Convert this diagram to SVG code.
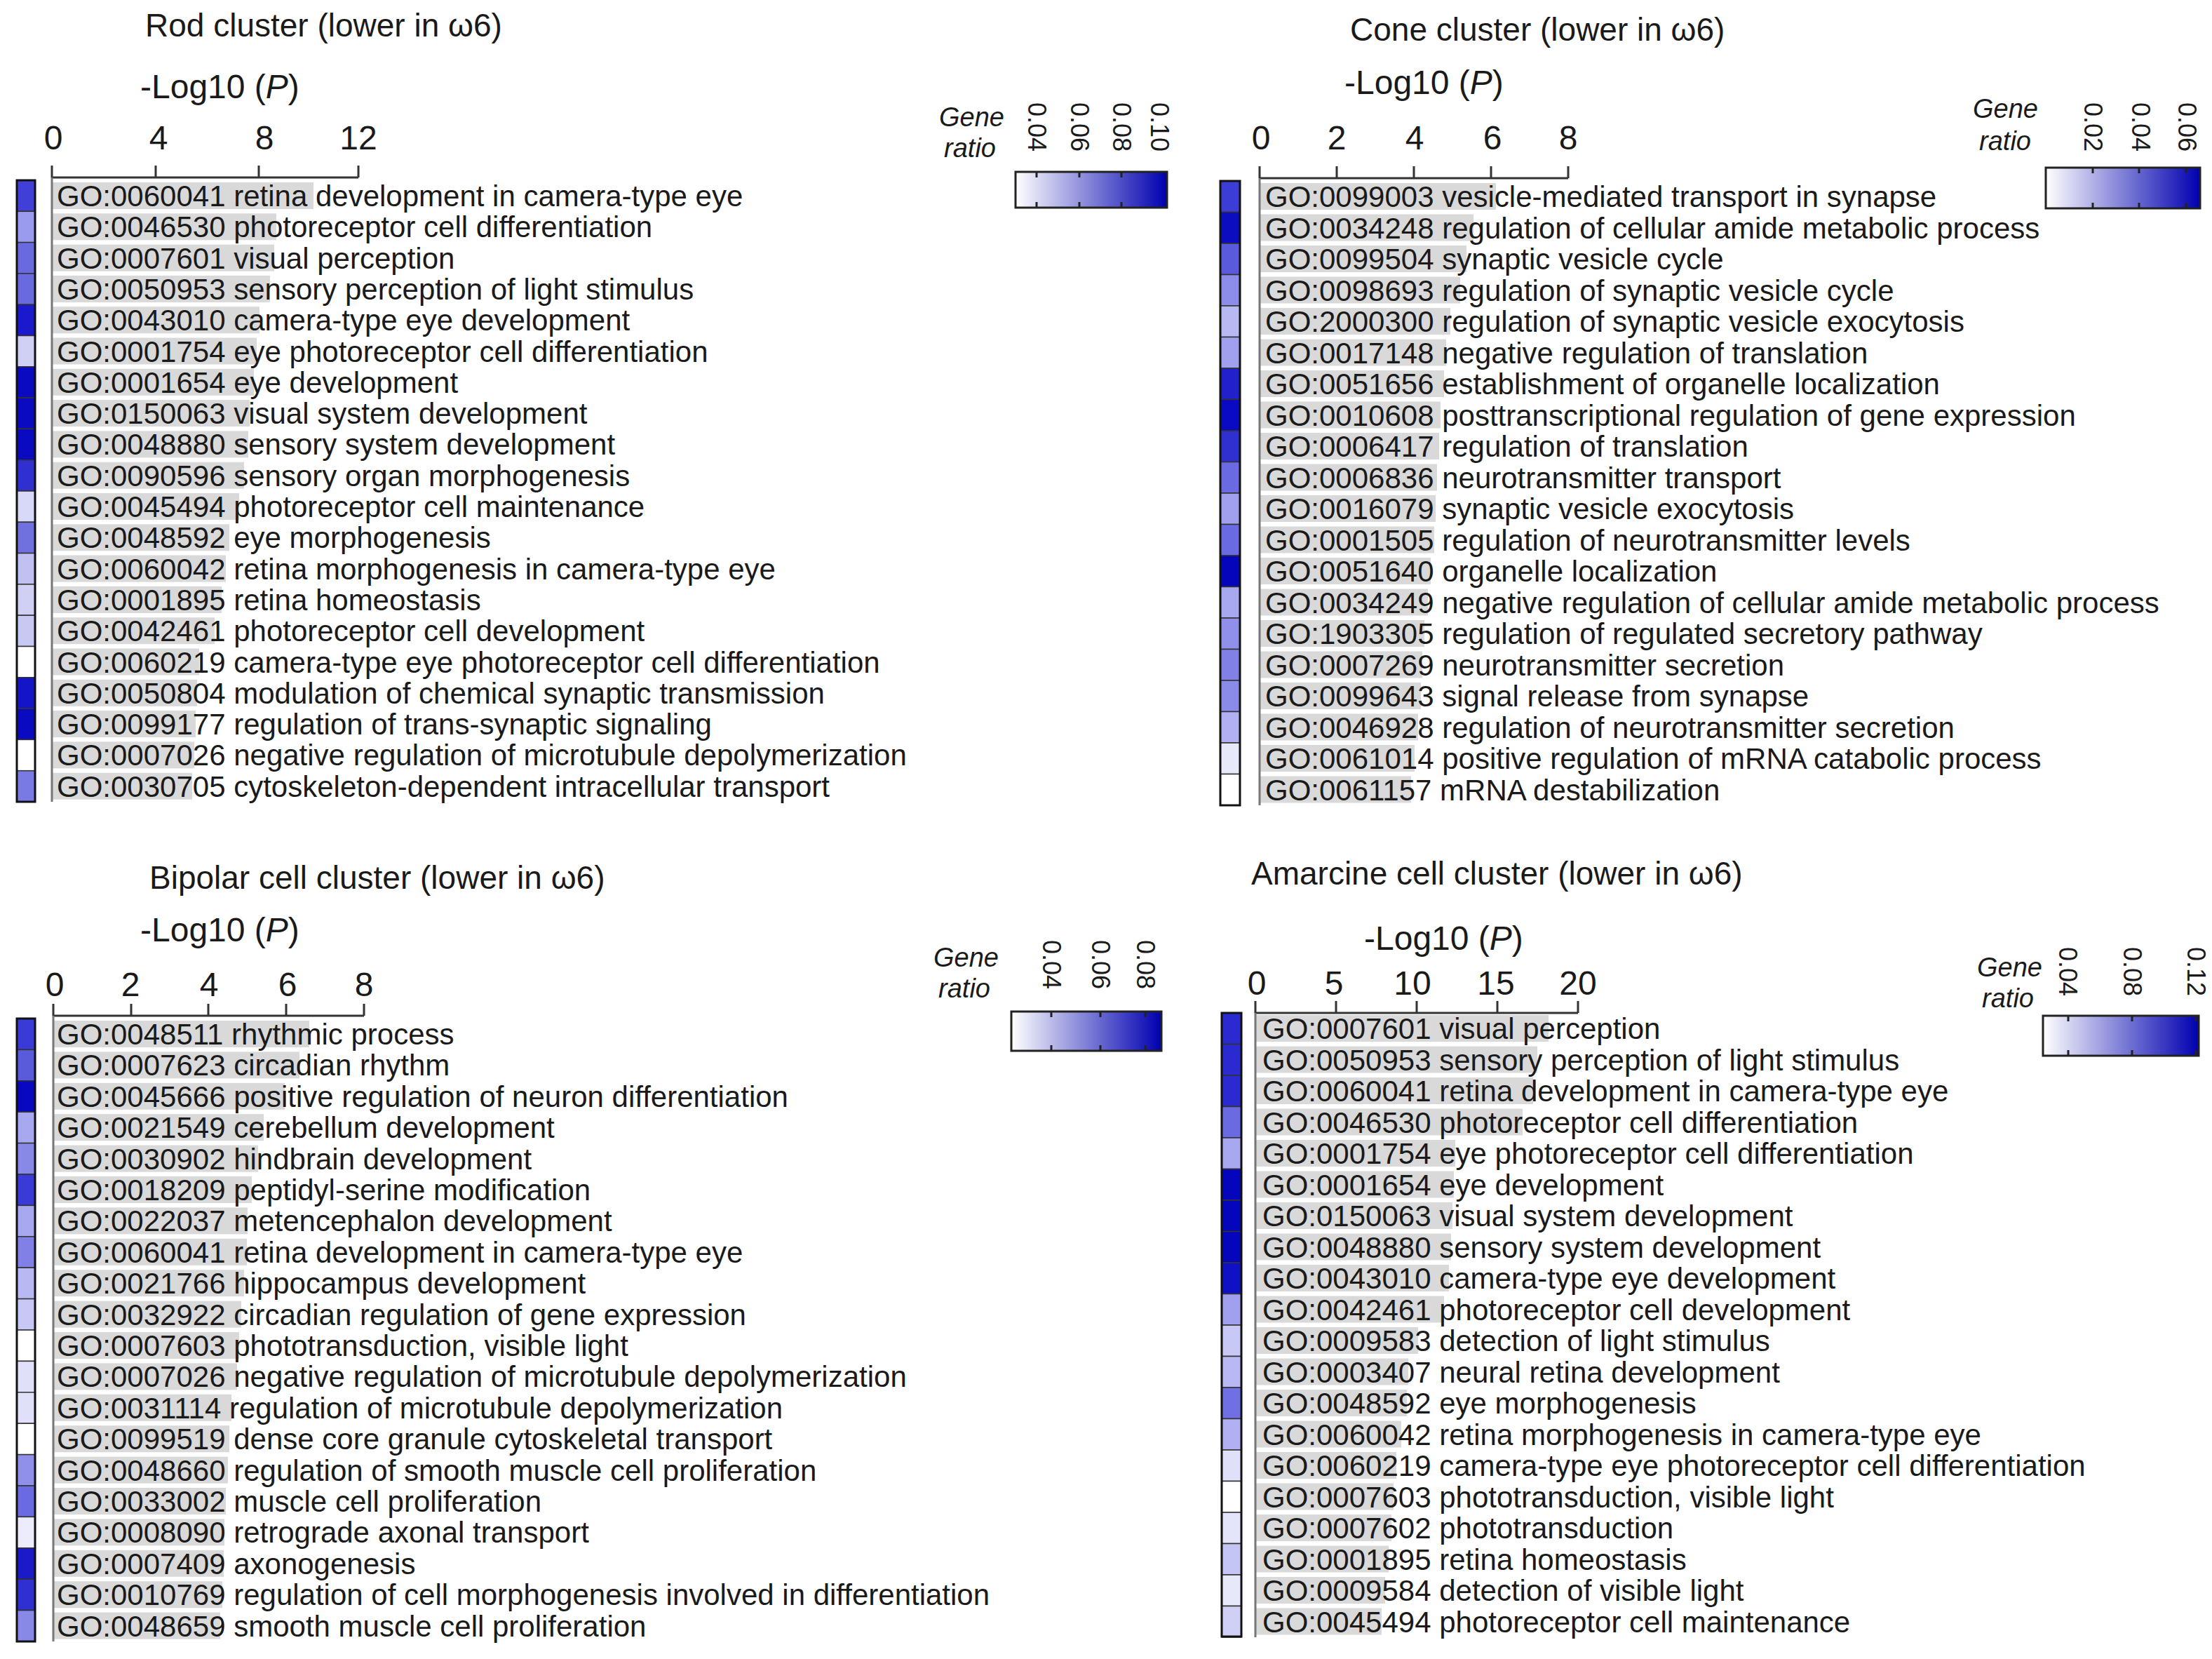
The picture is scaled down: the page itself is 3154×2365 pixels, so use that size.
<svg xmlns="http://www.w3.org/2000/svg" width="3154" height="2365" viewBox="0 0 3154 2365">
<style>
text{font-family:"Liberation Sans",Arial,sans-serif;fill:#1a1a1a}
.ti{font-size:46px}
.ax{font-size:48px}
.lb{font-size:42px}
.gr{font-size:38px;font-style:italic}
.ct{font-size:36px}
.bar{fill:#d9d9d9}
.sq{stroke:#333;stroke-width:1.5}
.axl{stroke:#333;stroke-width:3;fill:none}
.yl{stroke:#777;stroke-width:3}
.cb{fill:url(#gg);stroke:#222;stroke-width:3}
.ctk{stroke:#222;stroke-width:3}
</style>
<defs>
<linearGradient id="gg" x1="0" x2="1" y1="0" y2="0"><stop offset="0" stop-color="#ffffff"/><stop offset="1" stop-color="#0000b0"/></linearGradient>
</defs>
<rect width="3154" height="2365" fill="#fff"/>

<g id="rod">
<text class="ti" x="207" y="52">Rod cluster (lower in ω6)</text>
<text class="ax" x="200" y="140">-Log10 (<tspan font-style="italic">P</tspan>)</text>
<g class="ax" text-anchor="middle"><text x="76" y="213">0</text><text x="226" y="213">4</text><text x="377" y="213">8</text><text x="511" y="213">12</text></g>
<path class="axl" d="M74 253H511M74 253V236M222 253V236M369 253V236M511 253V236"/>
<g>
<g transform="translate(0,257)"><rect class="sq" x="24" y="0" width="26" height="44.3" fill="#4040d8"/><rect class="bar" x="74" y="3" width="373" height="38"/><text class="lb" x="81" y="37">GO:0060041 retina development in camera-type eye</text></g>
<g transform="translate(0,301.3)"><rect class="sq" x="24" y="0" width="26" height="44.3" fill="#9a9aee"/><rect class="bar" x="74" y="3" width="320" height="38"/><text class="lb" x="81" y="37">GO:0046530 photoreceptor cell differentiation</text></g>
<g transform="translate(0,345.6)"><rect class="sq" x="24" y="0" width="26" height="44.3" fill="#6a6ae0"/><rect class="bar" x="74" y="3" width="317" height="38"/><text class="lb" x="81" y="37">GO:0007601 visual perception</text></g>
<g transform="translate(0,389.9)"><rect class="sq" x="24" y="0" width="26" height="44.3" fill="#6a6ae0"/><rect class="bar" x="74" y="3" width="311" height="38"/><text class="lb" x="81" y="37">GO:0050953 sensory perception of light stimulus</text></g>
<g transform="translate(0,434.2)"><rect class="sq" x="24" y="0" width="26" height="44.3" fill="#1a1acc"/><rect class="bar" x="74" y="3" width="296" height="38"/><text class="lb" x="81" y="37">GO:0043010 camera-type eye development</text></g>
<g transform="translate(0,478.5)"><rect class="sq" x="24" y="0" width="26" height="44.3" fill="#d0d0f5"/><rect class="bar" x="74" y="3" width="292" height="38"/><text class="lb" x="81" y="37">GO:0001754 eye photoreceptor cell differentiation</text></g>
<g transform="translate(0,522.8)"><rect class="sq" x="24" y="0" width="26" height="44.3" fill="#0a0ac0"/><rect class="bar" x="74" y="3" width="288" height="38"/><text class="lb" x="81" y="37">GO:0001654 eye development</text></g>
<g transform="translate(0,567.1)"><rect class="sq" x="24" y="0" width="26" height="44.3" fill="#0a0ac0"/><rect class="bar" x="74" y="3" width="282" height="38"/><text class="lb" x="81" y="37">GO:0150063 visual system development</text></g>
<g transform="translate(0,611.4)"><rect class="sq" x="24" y="0" width="26" height="44.3" fill="#0a0ac0"/><rect class="bar" x="74" y="3" width="280" height="38"/><text class="lb" x="81" y="37">GO:0048880 sensory system development</text></g>
<g transform="translate(0,655.7)"><rect class="sq" x="24" y="0" width="26" height="44.3" fill="#3030d0"/><rect class="bar" x="74" y="3" width="274" height="38"/><text class="lb" x="81" y="37">GO:0090596 sensory organ morphogenesis</text></g>
<g transform="translate(0,700)"><rect class="sq" x="24" y="0" width="26" height="44.3" fill="#d8d8f8"/><rect class="bar" x="74" y="3" width="267" height="38"/><text class="lb" x="81" y="37">GO:0045494 photoreceptor cell maintenance</text></g>
<g transform="translate(0,744.3)"><rect class="sq" x="24" y="0" width="26" height="44.3" fill="#7070e0"/><rect class="bar" x="74" y="3" width="253" height="38"/><text class="lb" x="81" y="37">GO:0048592 eye morphogenesis</text></g>
<g transform="translate(0,788.6)"><rect class="sq" x="24" y="0" width="26" height="44.3" fill="#c0c0f2"/><rect class="bar" x="74" y="3" width="248" height="38"/><text class="lb" x="81" y="37">GO:0060042 retina morphogenesis in camera-type eye</text></g>
<g transform="translate(0,832.9)"><rect class="sq" x="24" y="0" width="26" height="44.3" fill="#d0d0f5"/><rect class="bar" x="74" y="3" width="242" height="38"/><text class="lb" x="81" y="37">GO:0001895 retina homeostasis</text></g>
<g transform="translate(0,877.2)"><rect class="sq" x="24" y="0" width="26" height="44.3" fill="#c8c8f4"/><rect class="bar" x="74" y="3" width="232" height="38"/><text class="lb" x="81" y="37">GO:0042461 photoreceptor cell development</text></g>
<g transform="translate(0,921.5)"><rect class="sq" x="24" y="0" width="26" height="44.3" fill="#ffffff"/><rect class="bar" x="74" y="3" width="210" height="38"/><text class="lb" x="81" y="37">GO:0060219 camera-type eye photoreceptor cell differentiation</text></g>
<g transform="translate(0,965.8)"><rect class="sq" x="24" y="0" width="26" height="44.3" fill="#1515c8"/><rect class="bar" x="74" y="3" width="207" height="38"/><text class="lb" x="81" y="37">GO:0050804 modulation of chemical synaptic transmission</text></g>
<g transform="translate(0,1010.1)"><rect class="sq" x="24" y="0" width="26" height="44.3" fill="#0a0ac0"/><rect class="bar" x="74" y="3" width="205" height="38"/><text class="lb" x="81" y="37">GO:0099177 regulation of trans-synaptic signaling</text></g>
<g transform="translate(0,1054.4)"><rect class="sq" x="24" y="0" width="26" height="44.3" fill="#ffffff"/><rect class="bar" x="74" y="3" width="203" height="38"/><text class="lb" x="81" y="37">GO:0007026 negative regulation of microtubule depolymerization</text></g>
<g transform="translate(0,1098.7)"><rect class="sq" x="24" y="0" width="26" height="44.3" fill="#7a7ae4"/><rect class="bar" x="74" y="3" width="200" height="38"/><text class="lb" x="81" y="37">GO:0030705 cytoskeleton-dependent intracellular transport</text></g>
</g>
<rect x="24" y="257" width="26" height="886" fill="none" stroke="#111" stroke-width="3"/>
<line class="yl" x1="74" y1="253" x2="74" y2="1143"/>
<text class="gr" x="1432" y="180" text-anchor="end">Gene</text><text class="gr" x="1420" y="224" text-anchor="end">ratio</text>
<g class="ct"><text transform="translate(1466,146) rotate(90)">0.04</text><text transform="translate(1527,146) rotate(90)">0.06</text><text transform="translate(1587,146) rotate(90)">0.08</text><text transform="translate(1641,146) rotate(90)">0.10</text></g>
<rect class="cb" x="1448" y="245" width="216" height="51"/>
<path class="ctk" d="M1478 245v8M1539 245v8M1599 245v8M1478 296v-8M1539 296v-8M1599 296v-8"/>
</g>

<g id="cone">
<text class="ti" x="1925" y="58">Cone cluster (lower in ω6)</text>
<text class="ax" x="1917" y="134">-Log10 (<tspan font-style="italic">P</tspan>)</text>
<g class="ax" text-anchor="middle"><text x="1798" y="213">0</text><text x="1906" y="213">2</text><text x="2017" y="213">4</text><text x="2128" y="213">6</text><text x="2236" y="213">8</text></g>
<path class="axl" d="M1796 254H2236M1796 254V237M1906 254V237M2016 254V237M2126 254V237M2236 254V237"/>
<g>
<g transform="translate(0,258)"><rect class="sq" x="1740" y="0" width="28" height="44.5" fill="#3c3cd6"/><rect class="bar" x="1796" y="3" width="337" height="38"/><text class="lb" x="1804" y="37">GO:0099003 vesicle-mediated transport in synapse</text></g>
<g transform="translate(0,302.5)"><rect class="sq" x="1740" y="0" width="28" height="44.5" fill="#0c0cc0"/><rect class="bar" x="1796" y="3" width="305" height="38"/><text class="lb" x="1804" y="37">GO:0034248 regulation of cellular amide metabolic process</text></g>
<g transform="translate(0,347)"><rect class="sq" x="1740" y="0" width="28" height="44.5" fill="#5a5adc"/><rect class="bar" x="1796" y="3" width="295" height="38"/><text class="lb" x="1804" y="37">GO:0099504 synaptic vesicle cycle</text></g>
<g transform="translate(0,391.5)"><rect class="sq" x="1740" y="0" width="28" height="44.5" fill="#8c8cea"/><rect class="bar" x="1796" y="3" width="286" height="38"/><text class="lb" x="1804" y="37">GO:0098693 regulation of synaptic vesicle cycle</text></g>
<g transform="translate(0,436)"><rect class="sq" x="1740" y="0" width="28" height="44.5" fill="#b8b8f2"/><rect class="bar" x="1796" y="3" width="272" height="38"/><text class="lb" x="1804" y="37">GO:2000300 regulation of synaptic vesicle exocytosis</text></g>
<g transform="translate(0,480.5)"><rect class="sq" x="1740" y="0" width="28" height="44.5" fill="#a0a0ee"/><rect class="bar" x="1796" y="3" width="266" height="38"/><text class="lb" x="1804" y="37">GO:0017148 negative regulation of translation</text></g>
<g transform="translate(0,525)"><rect class="sq" x="1740" y="0" width="28" height="44.5" fill="#2020cc"/><rect class="bar" x="1796" y="3" width="263" height="38"/><text class="lb" x="1804" y="37">GO:0051656 establishment of organelle localization</text></g>
<g transform="translate(0,569.5)"><rect class="sq" x="1740" y="0" width="28" height="44.5" fill="#0a0ac4"/><rect class="bar" x="1796" y="3" width="258" height="38"/><text class="lb" x="1804" y="37">GO:0010608 posttranscriptional regulation of gene expression</text></g>
<g transform="translate(0,614)"><rect class="sq" x="1740" y="0" width="28" height="44.5" fill="#3030d0"/><rect class="bar" x="1796" y="3" width="256" height="38"/><text class="lb" x="1804" y="37">GO:0006417 regulation of translation</text></g>
<g transform="translate(0,658.5)"><rect class="sq" x="1740" y="0" width="28" height="44.5" fill="#6a6ae2"/><rect class="bar" x="1796" y="3" width="253" height="38"/><text class="lb" x="1804" y="37">GO:0006836 neurotransmitter transport</text></g>
<g transform="translate(0,703)"><rect class="sq" x="1740" y="0" width="28" height="44.5" fill="#a0a0ee"/><rect class="bar" x="1796" y="3" width="251" height="38"/><text class="lb" x="1804" y="37">GO:0016079 synaptic vesicle exocytosis</text></g>
<g transform="translate(0,747.5)"><rect class="sq" x="1740" y="0" width="28" height="44.5" fill="#6a6ae2"/><rect class="bar" x="1796" y="3" width="249" height="38"/><text class="lb" x="1804" y="37">GO:0001505 regulation of neurotransmitter levels</text></g>
<g transform="translate(0,792)"><rect class="sq" x="1740" y="0" width="28" height="44.5" fill="#0505bc"/><rect class="bar" x="1796" y="3" width="244" height="38"/><text class="lb" x="1804" y="37">GO:0051640 organelle localization</text></g>
<g transform="translate(0,836.5)"><rect class="sq" x="1740" y="0" width="28" height="44.5" fill="#a8a8f0"/><rect class="bar" x="1796" y="3" width="240" height="38"/><text class="lb" x="1804" y="37">GO:0034249 negative regulation of cellular amide metabolic process</text></g>
<g transform="translate(0,881)"><rect class="sq" x="1740" y="0" width="28" height="44.5" fill="#9090ea"/><rect class="bar" x="1796" y="3" width="235" height="38"/><text class="lb" x="1804" y="37">GO:1903305 regulation of regulated secretory pathway</text></g>
<g transform="translate(0,925.5)"><rect class="sq" x="1740" y="0" width="28" height="44.5" fill="#8080e6"/><rect class="bar" x="1796" y="3" width="232" height="38"/><text class="lb" x="1804" y="37">GO:0007269 neurotransmitter secretion</text></g>
<g transform="translate(0,970)"><rect class="sq" x="1740" y="0" width="28" height="44.5" fill="#8a8ae8"/><rect class="bar" x="1796" y="3" width="230" height="38"/><text class="lb" x="1804" y="37">GO:0099643 signal release from synapse</text></g>
<g transform="translate(0,1014.5)"><rect class="sq" x="1740" y="0" width="28" height="44.5" fill="#b0b0f2"/><rect class="bar" x="1796" y="3" width="226" height="38"/><text class="lb" x="1804" y="37">GO:0046928 regulation of neurotransmitter secretion</text></g>
<g transform="translate(0,1059)"><rect class="sq" x="1740" y="0" width="28" height="44.5" fill="#e8e8fb"/><rect class="bar" x="1796" y="3" width="221" height="38"/><text class="lb" x="1804" y="37">GO:0061014 positive regulation of mRNA catabolic process</text></g>
<g transform="translate(0,1103.5)"><rect class="sq" x="1740" y="0" width="28" height="44.5" fill="#ffffff"/><rect class="bar" x="1796" y="3" width="216" height="38"/><text class="lb" x="1804" y="37">GO:0061157 mRNA destabilization</text></g>
</g>
<rect x="1740" y="258" width="28" height="890" fill="none" stroke="#111" stroke-width="3"/>
<line class="yl" x1="1796" y1="254" x2="1796" y2="1148"/>
<text class="gr" x="2906" y="168" text-anchor="end">Gene</text><text class="gr" x="2896" y="214" text-anchor="end">ratio</text>
<g class="ct"><text transform="translate(2972,146) rotate(90)">0.02</text><text transform="translate(3040,146) rotate(90)">0.04</text><text transform="translate(3106,146) rotate(90)">0.06</text></g>
<rect class="cb" x="2917" y="239" width="220" height="58"/>
<path class="ctk" d="M2984 239v8M3050 239v8M3117 239v8M2984 297v-8M3050 297v-8M3117 297v-8"/>
</g>

<g id="bipolar">
<text class="ti" x="213" y="1267">Bipolar cell cluster (lower in ω6)</text>
<text class="ax" x="200" y="1342">-Log10 (<tspan font-style="italic">P</tspan>)</text>
<g class="ax" text-anchor="middle"><text x="78" y="1420">0</text><text x="186" y="1420">2</text><text x="298" y="1420">4</text><text x="410" y="1420">6</text><text x="519" y="1420">8</text></g>
<path class="axl" d="M76 1448H519M76 1448V1431M187 1448V1431M297 1448V1431M408 1448V1431M519 1448V1431"/>
<g>
<g transform="translate(0,1452)"><rect class="sq" x="24" y="0" width="26" height="44.4" fill="#3a3ad6"/><rect class="bar" x="76" y="3" width="365" height="38"/><text class="lb" x="81" y="37">GO:0048511 rhythmic process</text></g>
<g transform="translate(0,1496.4)"><rect class="sq" x="24" y="0" width="26" height="44.4" fill="#5a5adc"/><rect class="bar" x="76" y="3" width="351" height="38"/><text class="lb" x="81" y="37">GO:0007623 circadian rhythm</text></g>
<g transform="translate(0,1540.8)"><rect class="sq" x="24" y="0" width="26" height="44.4" fill="#0808c0"/><rect class="bar" x="76" y="3" width="330" height="38"/><text class="lb" x="81" y="37">GO:0045666 positive regulation of neuron differentiation</text></g>
<g transform="translate(0,1585.2)"><rect class="sq" x="24" y="0" width="26" height="44.4" fill="#a8a8f0"/><rect class="bar" x="76" y="3" width="300" height="38"/><text class="lb" x="81" y="37">GO:0021549 cerebellum development</text></g>
<g transform="translate(0,1629.6)"><rect class="sq" x="24" y="0" width="26" height="44.4" fill="#8888e8"/><rect class="bar" x="76" y="3" width="292" height="38"/><text class="lb" x="81" y="37">GO:0030902 hindbrain development</text></g>
<g transform="translate(0,1674)"><rect class="sq" x="24" y="0" width="26" height="44.4" fill="#3a3ad6"/><rect class="bar" x="76" y="3" width="283" height="38"/><text class="lb" x="81" y="37">GO:0018209 peptidyl-serine modification</text></g>
<g transform="translate(0,1718.4)"><rect class="sq" x="24" y="0" width="26" height="44.4" fill="#a8a8f0"/><rect class="bar" x="76" y="3" width="277" height="38"/><text class="lb" x="81" y="37">GO:0022037 metencephalon development</text></g>
<g transform="translate(0,1762.8)"><rect class="sq" x="24" y="0" width="26" height="44.4" fill="#8080e6"/><rect class="bar" x="76" y="3" width="276" height="38"/><text class="lb" x="81" y="37">GO:0060041 retina development in camera-type eye</text></g>
<g transform="translate(0,1807.2)"><rect class="sq" x="24" y="0" width="26" height="44.4" fill="#b8b8f4"/><rect class="bar" x="76" y="3" width="272" height="38"/><text class="lb" x="81" y="37">GO:0021766 hippocampus development</text></g>
<g transform="translate(0,1851.6)"><rect class="sq" x="24" y="0" width="26" height="44.4" fill="#c8c8f6"/><rect class="bar" x="76" y="3" width="268" height="38"/><text class="lb" x="81" y="37">GO:0032922 circadian regulation of gene expression</text></g>
<g transform="translate(0,1896)"><rect class="sq" x="24" y="0" width="26" height="44.4" fill="#ffffff"/><rect class="bar" x="76" y="3" width="265" height="38"/><text class="lb" x="81" y="37">GO:0007603 phototransduction, visible light</text></g>
<g transform="translate(0,1940.4)"><rect class="sq" x="24" y="0" width="26" height="44.4" fill="#e0e0fa"/><rect class="bar" x="76" y="3" width="262" height="38"/><text class="lb" x="81" y="37">GO:0007026 negative regulation of microtubule depolymerization</text></g>
<g transform="translate(0,1984.8)"><rect class="sq" x="24" y="0" width="26" height="44.4" fill="#e0e0fa"/><rect class="bar" x="76" y="3" width="254" height="38"/><text class="lb" x="81" y="37">GO:0031114 regulation of microtubule depolymerization</text></g>
<g transform="translate(0,2029.2)"><rect class="sq" x="24" y="0" width="26" height="44.4" fill="#ffffff"/><rect class="bar" x="76" y="3" width="251" height="38"/><text class="lb" x="81" y="37">GO:0099519 dense core granule cytoskeletal transport</text></g>
<g transform="translate(0,2073.6)"><rect class="sq" x="24" y="0" width="26" height="44.4" fill="#9090ea"/><rect class="bar" x="76" y="3" width="249" height="38"/><text class="lb" x="81" y="37">GO:0048660 regulation of smooth muscle cell proliferation</text></g>
<g transform="translate(0,2118)"><rect class="sq" x="24" y="0" width="26" height="44.4" fill="#6a6ae2"/><rect class="bar" x="76" y="3" width="246" height="38"/><text class="lb" x="81" y="37">GO:0033002 muscle cell proliferation</text></g>
<g transform="translate(0,2162.4)"><rect class="sq" x="24" y="0" width="26" height="44.4" fill="#ececfc"/><rect class="bar" x="76" y="3" width="244" height="38"/><text class="lb" x="81" y="37">GO:0008090 retrograde axonal transport</text></g>
<g transform="translate(0,2206.8)"><rect class="sq" x="24" y="0" width="26" height="44.4" fill="#1a1ac8"/><rect class="bar" x="76" y="3" width="243" height="38"/><text class="lb" x="81" y="37">GO:0007409 axonogenesis</text></g>
<g transform="translate(0,2251.2)"><rect class="sq" x="24" y="0" width="26" height="44.4" fill="#3030d2"/><rect class="bar" x="76" y="3" width="241" height="38"/><text class="lb" x="81" y="37">GO:0010769 regulation of cell morphogenesis involved in differentiation</text></g>
<g transform="translate(0,2295.6)"><rect class="sq" x="24" y="0" width="26" height="44.4" fill="#8888e8"/><rect class="bar" x="76" y="3" width="238" height="38"/><text class="lb" x="81" y="37">GO:0048659 smooth muscle cell proliferation</text></g>
</g>
<rect x="24" y="1452" width="26" height="888" fill="none" stroke="#111" stroke-width="3"/>
<line class="yl" x1="76" y1="1448" x2="76" y2="2340"/>
<text class="gr" x="1424" y="1378" text-anchor="end">Gene</text><text class="gr" x="1412" y="1422" text-anchor="end">ratio</text>
<g class="ct"><text transform="translate(1487,1340) rotate(90)">0.04</text><text transform="translate(1557,1340) rotate(90)">0.06</text><text transform="translate(1621,1340) rotate(90)">0.08</text></g>
<rect class="cb" x="1442" y="1442" width="214" height="56"/>
<path class="ctk" d="M1499 1442v8M1569 1442v8M1633 1442v8M1499 1498v-8M1569 1498v-8M1633 1498v-8"/>
</g>

<g id="amacrine">
<text class="ti" x="1784" y="1261">Amarcine cell cluster  (lower in ω6)</text>
<text class="ax" x="1945" y="1354">-Log10 (<tspan font-style="italic">P</tspan>)</text>
<g class="ax" text-anchor="middle"><text x="1792" y="1418">0</text><text x="1902" y="1418">5</text><text x="2014" y="1418">10</text><text x="2133" y="1418">15</text><text x="2250" y="1418">20</text></g>
<path class="axl" d="M1790 1444H2250M1790 1444V1427M1905 1444V1427M2020 1444V1427M2135 1444V1427M2250 1444V1427"/>
<g>
<g transform="translate(0,1444)"><rect class="sq" x="1742" y="0" width="28" height="44.45" fill="#2a2ad0"/><rect class="bar" x="1790" y="3" width="418" height="38"/><text class="lb" x="1800" y="37">GO:0007601 visual perception</text></g>
<g transform="translate(0,1488.5)"><rect class="sq" x="1742" y="0" width="28" height="44.45" fill="#2a2ad0"/><rect class="bar" x="1790" y="3" width="402" height="38"/><text class="lb" x="1800" y="37">GO:0050953 sensory perception of light stimulus</text></g>
<g transform="translate(0,1533)"><rect class="sq" x="1742" y="0" width="28" height="44.45" fill="#2a2ad0"/><rect class="bar" x="1790" y="3" width="396" height="38"/><text class="lb" x="1800" y="37">GO:0060041 retina development in camera-type eye</text></g>
<g transform="translate(0,1577.5)"><rect class="sq" x="1742" y="0" width="28" height="44.45" fill="#6a6ae2"/><rect class="bar" x="1790" y="3" width="381" height="38"/><text class="lb" x="1800" y="37">GO:0046530 photoreceptor cell differentiation</text></g>
<g transform="translate(0,1622)"><rect class="sq" x="1742" y="0" width="28" height="44.45" fill="#a8a8f0"/><rect class="bar" x="1790" y="3" width="285" height="38"/><text class="lb" x="1800" y="37">GO:0001754 eye photoreceptor cell differentiation</text></g>
<g transform="translate(0,1666.5)"><rect class="sq" x="1742" y="0" width="28" height="44.45" fill="#0505bc"/><rect class="bar" x="1790" y="3" width="283" height="38"/><text class="lb" x="1800" y="37">GO:0001654 eye development</text></g>
<g transform="translate(0,1711)"><rect class="sq" x="1742" y="0" width="28" height="44.45" fill="#0505bc"/><rect class="bar" x="1790" y="3" width="281" height="38"/><text class="lb" x="1800" y="37">GO:0150063 visual system development</text></g>
<g transform="translate(0,1755.5)"><rect class="sq" x="1742" y="0" width="28" height="44.45" fill="#0505bc"/><rect class="bar" x="1790" y="3" width="279" height="38"/><text class="lb" x="1800" y="37">GO:0048880 sensory system development</text></g>
<g transform="translate(0,1800)"><rect class="sq" x="1742" y="0" width="28" height="44.45" fill="#1010c4"/><rect class="bar" x="1790" y="3" width="276" height="38"/><text class="lb" x="1800" y="37">GO:0043010 camera-type eye development</text></g>
<g transform="translate(0,1844.5)"><rect class="sq" x="1742" y="0" width="28" height="44.45" fill="#a0a0ee"/><rect class="bar" x="1790" y="3" width="269" height="38"/><text class="lb" x="1800" y="37">GO:0042461 photoreceptor cell development</text></g>
<g transform="translate(0,1889)"><rect class="sq" x="1742" y="0" width="28" height="44.45" fill="#c8c8f6"/><rect class="bar" x="1790" y="3" width="232" height="38"/><text class="lb" x="1800" y="37">GO:0009583 detection of light stimulus</text></g>
<g transform="translate(0,1933.5)"><rect class="sq" x="1742" y="0" width="28" height="44.45" fill="#b8b8f4"/><rect class="bar" x="1790" y="3" width="218" height="38"/><text class="lb" x="1800" y="37">GO:0003407 neural retina development</text></g>
<g transform="translate(0,1978)"><rect class="sq" x="1742" y="0" width="28" height="44.45" fill="#7070e4"/><rect class="bar" x="1790" y="3" width="216" height="38"/><text class="lb" x="1800" y="37">GO:0048592 eye morphogenesis</text></g>
<g transform="translate(0,2022.5)"><rect class="sq" x="1742" y="0" width="28" height="44.45" fill="#b0b0f2"/><rect class="bar" x="1790" y="3" width="208" height="38"/><text class="lb" x="1800" y="37">GO:0060042 retina morphogenesis in camera-type eye</text></g>
<g transform="translate(0,2067)"><rect class="sq" x="1742" y="0" width="28" height="44.45" fill="#e0e0fa"/><rect class="bar" x="1790" y="3" width="201" height="38"/><text class="lb" x="1800" y="37">GO:0060219 camera-type eye photoreceptor cell differentiation</text></g>
<g transform="translate(0,2111.5)"><rect class="sq" x="1742" y="0" width="28" height="44.45" fill="#ffffff"/><rect class="bar" x="1790" y="3" width="197" height="38"/><text class="lb" x="1800" y="37">GO:0007603 phototransduction, visible light</text></g>
<g transform="translate(0,2156)"><rect class="sq" x="1742" y="0" width="28" height="44.45" fill="#e4e4fb"/><rect class="bar" x="1790" y="3" width="194" height="38"/><text class="lb" x="1800" y="37">GO:0007602 phototransduction</text></g>
<g transform="translate(0,2200.5)"><rect class="sq" x="1742" y="0" width="28" height="44.45" fill="#c4c4f5"/><rect class="bar" x="1790" y="3" width="190" height="38"/><text class="lb" x="1800" y="37">GO:0001895 retina homeostasis</text></g>
<g transform="translate(0,2245)"><rect class="sq" x="1742" y="0" width="28" height="44.45" fill="#e8e8fb"/><rect class="bar" x="1790" y="3" width="185" height="38"/><text class="lb" x="1800" y="37">GO:0009584 detection of visible light</text></g>
<g transform="translate(0,2289.5)"><rect class="sq" x="1742" y="0" width="28" height="44.45" fill="#d0d0f7"/><rect class="bar" x="1790" y="3" width="180" height="38"/><text class="lb" x="1800" y="37">GO:0045494 photoreceptor cell maintenance</text></g>
</g>
<rect x="1742" y="1444" width="28" height="889" fill="none" stroke="#111" stroke-width="3"/>
<line class="yl" x1="1790" y1="1444" x2="1790" y2="2334"/>
<text class="gr" x="2912" y="1392" text-anchor="end">Gene</text><text class="gr" x="2900" y="1436" text-anchor="end">ratio</text>
<g class="ct"><text transform="translate(2936,1350) rotate(90)">0.04</text><text transform="translate(3028,1350) rotate(90)">0.08</text><text transform="translate(3119,1350) rotate(90)">0.12</text></g>
<rect class="cb" x="2913" y="1448" width="222" height="57"/>
<path class="ctk" d="M2949 1448v8M3040 1448v8M3131 1448v8M2949 1505v-8M3040 1505v-8M3131 1505v-8"/>
</g>
</svg>
